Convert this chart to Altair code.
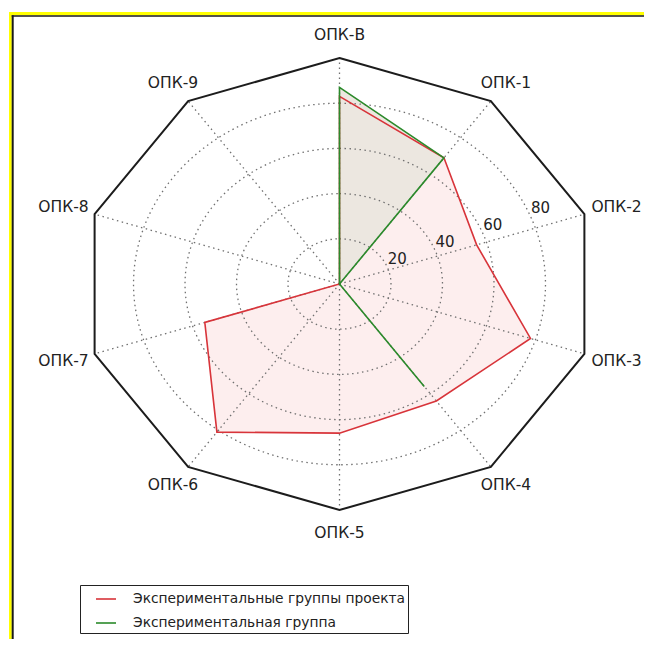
import altair as alt
import pandas as pd
import numpy as np

# ---------------- data ----------------
categories = ["ОПК-В", "ОПК-1", "ОПК-2", "ОПК-3", "ОПК-4",
              "ОПК-5", "ОПК-6", "ОПК-7", "ОПК-8", "ОПК-9"]
series_names = ["Экспериментальные группы проекта", "Экспериментальная группа"]
values_project = [83, 69, 56, 78, 64, 66, 81, 55, 0, 0]
values_group = [87, 69, 0, 0, 56, 0, 0, 0, 0, 0]
ring_ticks = [20, 40, 60, 80]
r_max = 100

# ---------------- layout ----------------
W, H = 636, 631
CX, CY = 331.5, 276.0      # centre in plot pixels
KX, KY = 2.575, 2.26       # pixels per unit (picture is stretched horizontally)
xs = alt.Scale(domain=[-CX / KX, (W - CX) / KX], nice=False, zero=False)
ys = alt.Scale(domain=[-(H - CY) / KY, CY / KY], nice=False, zero=False)

FONT = "DejaVu Sans"
RED, GREEN = "#d8343a", "#2b8a2b"
RED_FILL, GREEN_FILL = "#fdeeee", "#ece7e0"
GRID = "#707070"

series_df = pd.DataFrame(
    [{"series": series_names[0], "i": i, "cat": c, "v": v}
     for i, (c, v) in enumerate(zip(categories, values_project))] +
    [{"series": series_names[1], "i": i, "cat": c, "v": v}
     for i, (c, v) in enumerate(zip(categories, values_group))]
)
cat_df = pd.DataFrame({"i": list(range(len(categories))), "cat": categories, "v": r_max})
ring_df = pd.DataFrame([{"ring": r, "deg": d} for r in ring_ticks for d in np.arange(0, 361, 2)])
tick_df = pd.DataFrame({"v": ring_ticks, "label": [str(t) for t in ring_ticks]})

N = len(categories)
polar = dict(x=f"datum.v*sin(datum.i*2*PI/{N})", y=f"datum.v*cos(datum.i*2*PI/{N})")

X = lambda f="x": alt.X(f"{f}:Q", scale=xs, axis=None)
Y = lambda f="y": alt.Y(f"{f}:Q", scale=ys, axis=None)

# frame (yellow + black at top and left)
frame = [
    alt.Chart().mark_rule(color="#ffff00", strokeWidth=3.3).encode(
        x=alt.value(1), x2=alt.value(W), y=alt.value(5.6)),
    alt.Chart().mark_rule(color="#ffff00", strokeWidth=2.8).encode(
        x=alt.value(2.4), y=alt.value(4), y2=alt.value(H)),
    alt.Chart().mark_rule(color="#1a1a1a", strokeWidth=1.5).encode(
        x=alt.value(3.7), x2=alt.value(W), y=alt.value(8)),
    alt.Chart().mark_rule(color="#1a1a1a", strokeWidth=2).encode(
        x=alt.value(4.7), y=alt.value(7.3), y2=alt.value(H)),
]

base = alt.Chart(series_df).transform_calculate(**polar)

fill_red = base.transform_filter(alt.datum.series == series_names[0]).mark_line(
    interpolate="linear-closed", fill=RED_FILL, strokeWidth=0
).encode(x=X(), y=Y(), order="i:Q")
fill_green = base.transform_filter(alt.datum.series == series_names[1]).mark_line(
    interpolate="linear-closed", fill=GREEN_FILL, strokeWidth=0
).encode(x=X(), y=Y(), order="i:Q")

rings = alt.Chart(ring_df).transform_calculate(
    x="datum.ring*sin(datum.deg*PI/180)", y="datum.ring*cos(datum.deg*PI/180)"
).mark_line(color=GRID, strokeWidth=1.3, strokeDash=[1.5, 3.5]).encode(
    x=X(), y=Y(), detail="ring:N", order="deg:Q")

spokes = alt.Chart(cat_df).transform_calculate(x0="0", y0="0", **polar).mark_rule(
    color=GRID, strokeWidth=1.3, strokeDash=[1.5, 3.5]
).encode(x=X("x0"), y=Y("y0"), x2="x:Q", y2="y:Q")

decagon = alt.Chart(cat_df).transform_calculate(**polar).mark_line(
    interpolate="linear-closed", color="#1c1c1c", strokeWidth=2
).encode(x=X(), y=Y(), order="i:Q")

lines = base.mark_line(interpolate="linear-closed", strokeWidth=1.6).encode(
    x=X(), y=Y(), order="i:Q", detail="series:N",
    color=alt.Color("series:N", sort=series_names,
                    scale=alt.Scale(domain=series_names, range=[RED, GREEN]),
                    legend=alt.Legend(
                        title=None, orient="none", legendX=72, legendY=577,
                        strokeColor="#222222", padding=3, symbolOffset=12,
                        symbolType="stroke", symbolSize=400, symbolStrokeWidth=1.6,
                        labelFont=FONT, labelFontSize=13.8, labelColor="#222222",
                        labelOffset=16, labelLimit=500, rowPadding=6)),
)

LFS = 15.5
lab_base = alt.Chart(cat_df).transform_calculate(
    x=f"110*sin(datum.i*2*PI/{N})", y=f"110*cos(datum.i*2*PI/{N})",
    xs_=f"100*sin(datum.i*2*PI/{N})")
lab_center = lab_base.transform_filter("datum.i!=2 && datum.i!=3 && datum.i!=7 && datum.i!=8").mark_text(
    font=FONT, fontSize=LFS, color="#222222", align="center", baseline="middle"
).encode(x=X(), y=Y(), text="cat:N")
lab_right = lab_base.transform_filter("datum.i==2 || datum.i==3").mark_text(
    font=FONT, fontSize=LFS, color="#222222", align="left", baseline="middle", dx=7
).encode(x=X("xs_"), y=Y(), text="cat:N")
lab_left = lab_base.transform_filter("datum.i==7 || datum.i==8").mark_text(
    font=FONT, fontSize=LFS, color="#222222", align="right", baseline="middle", dx=-6
).encode(x=X("xs_"), y=Y(), text="cat:N")

tick_labels = alt.Chart(tick_df).transform_calculate(
    x="datum.v*sin(68*PI/180)", y="datum.v*cos(68*PI/180)"
).mark_text(font=FONT, fontSize=15, color="#222222", align="center",
            baseline="middle", dx=10, dy=-8).encode(x=X(), y=Y(), text="label:N")

chart = alt.layer(
    *frame, fill_red, fill_green, rings, spokes, decagon, lines,
    lab_center, lab_right, lab_left, tick_labels
).properties(
    width=W, height=H, padding=0, autosize=alt.AutoSizeParams(type="none"),
    background="white"
).configure_view(strokeWidth=0)

chart.save("out.html", embed_options={"renderer": "svg", "actions": False})
